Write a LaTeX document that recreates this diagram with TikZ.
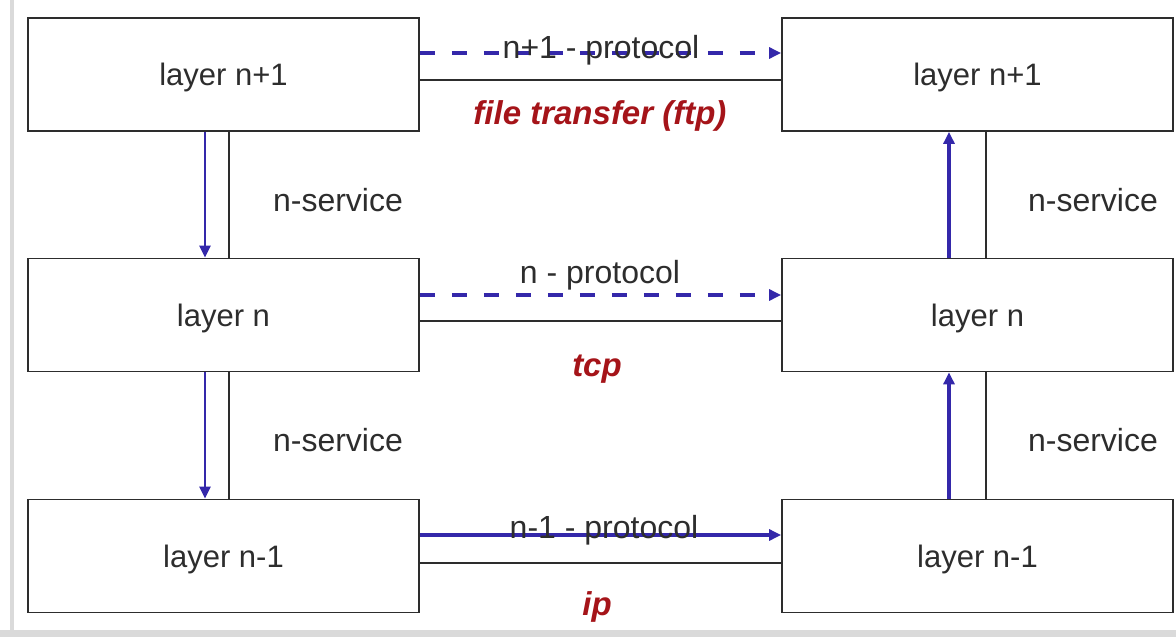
\documentclass[tikz,border=0pt]{standalone}
\usepackage{fontspec}
\setmainfont{Liberation Sans}
\usetikzlibrary{arrows.meta}
\definecolor{arrowblue}{RGB}{52,40,170}
\definecolor{protored}{RGB}{165,20,25}
\definecolor{txt}{RGB}{45,45,45}
\definecolor{framegray}{RGB}{218,218,218}
\begin{document}
\begin{tikzpicture}[x=1pt,y=-1pt,
  layerbox/.style={draw=txt, line width=1.8pt, minimum width=391pt, minimum height=113pt, inner sep=0pt, text depth=0pt, text=txt, font=\fontsize{31}{36}\selectfont},
  lbl/.style={text=txt, font=\fontsize{32}{36}\selectfont, inner sep=0pt},
  protolbl/.style={text=protored, font=\fontsize{33}{36}\selectfont\bfseries\itshape, inner sep=0pt},
  link/.style={draw=txt, line width=1.4pt},
  flow/.style={draw=arrowblue, line width=3.2pt, -{Triangle[length=12pt,width=11pt]}},
  dflow/.style={flow, dash pattern=on 15pt off 17pt},
]
\fill[white] (0,0) rectangle (1176,637);
\fill[framegray] (0,630) rectangle (1176,637);
\fill[framegray] (10,0) rectangle (14,630);
\useasboundingbox (0,0) rectangle (1176,637);

% boxes
\node[layerbox] (L1) at (223.5,74.5) {layer n+1};
\node[layerbox] (L2) at (223.5,315) {layer n};
\node[layerbox] (L3) at (223.5,556) {layer n-1};
\node[layerbox] (R1) at (977.5,74.5) {layer n+1};
\node[layerbox] (R2) at (977.5,315) {layer n};
\node[layerbox] (R3) at (977.5,556) {layer n-1};

% horizontal links
\draw[link] ([yshift=-5.5pt]L1.east) -- ([yshift=-5.5pt]R1.west);
\draw[link] ([yshift=-6pt]L2.east) -- ([yshift=-6pt]R2.west);
\draw[link] ([yshift=-7pt]L3.east) -- ([yshift=-7pt]R3.west);
\draw[dflow] ([yshift=21.5pt]L1.east) -- ([yshift=21.5pt]R1.west);
\draw[dflow] ([yshift=20pt]L2.east) -- ([yshift=20pt]R2.west);
\draw[flow] ([yshift=21pt]L3.east) -- ([yshift=21pt]R3.west);

% vertical links
\draw[link, line width=2pt] ([xshift=5.5pt]L1.south) -- ([xshift=5.5pt]L2.north);
\draw[link, line width=2pt] ([xshift=5.5pt]L2.south) -- ([xshift=5.5pt]L3.north);
\draw[link, line width=2pt] ([xshift=8.5pt]R3.north) -- ([xshift=8.5pt]R2.south);
\draw[link, line width=2pt] ([xshift=8.5pt]R2.north) -- ([xshift=8.5pt]R1.south);
\draw[flow, line width=2.8pt] ([xshift=-18.5pt]L1.south) -- ([xshift=-18.5pt]L2.north);
\draw[flow, line width=2.8pt] ([xshift=-18.5pt]L2.south) -- ([xshift=-18.5pt]L3.north);
\draw[flow, line width=4.5pt] ([xshift=-28.5pt]R3.north) -- ([xshift=-28.5pt]R2.south);
\draw[flow, line width=4.5pt] ([xshift=-28.5pt]R2.north) -- ([xshift=-28.5pt]R1.south);

% labels
\node[lbl, anchor=base] (p1) at (601,58) {n+1 - protocol};
\node[lbl, anchor=base] (p2) at (600,283) {n - protocol};
\node[lbl, anchor=base] (p3) at (604,538) {n-1 - protocol};
\node[protolbl, anchor=base] (t1) at (600,124) {file transfer (ftp)};
\node[protolbl, anchor=base] (t2) at (597,376) {tcp};
\node[protolbl, anchor=base] (t3) at (597,615) {ip};
\node[lbl] (s1) at (338,200) {n-service};
\node[lbl] (s2) at (338,440) {n-service};
\node[lbl] (s3) at (1093,200) {n-service};
\node[lbl] (s4) at (1093,440) {n-service};
\end{tikzpicture}
\end{document}
